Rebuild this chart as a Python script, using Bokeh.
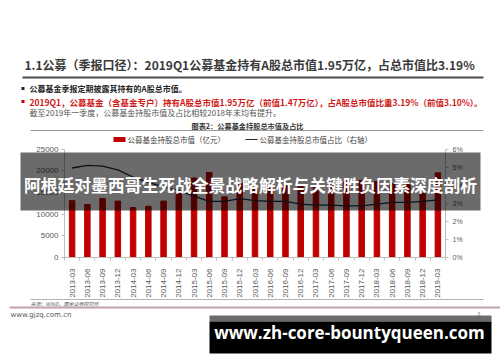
from math import pi
from bokeh.plotting import figure
from bokeh.models import (FactorRange, Range1d, LinearAxis, FixedTicker,
                          PrintfTickFormatter, Label, BoxAnnotation)
from bokeh.embed import file_html
from bokeh.resources import INLINE

# ---------------- data ----------------
categories = ["2013-03", "2013-06", "2013-09", "2013-12", "2014-03", "2014-06",
              "2014-09", "2014-12", "2015-03", "2015-06", "2015-09", "2015-12",
              "2016-03", "2016-06", "2016-09", "2016-12", "2017-03", "2017-06",
              "2017-09", "2017-12", "2018-03", "2018-06", "2018-09", "2018-12",
              "2019-03"]
holdings = [13100, 12200, 13600, 13000, 11500, 11800, 13000, 15000, 18300, 19600,
            14000, 17200, 15800, 16000, 16500, 16300, 16600, 17000, 17600, 17800,
            17500, 17000, 16800, 14700, 19500]
ratio_pct = [4.95, 5.10, 5.05, 4.85, 4.45, 4.15, 3.90, 3.70, 3.40, 3.10,
             3.10, 3.25, 3.15, 3.10, 3.10, 2.95, 2.90, 2.90, 2.85, 2.85,
             2.95, 3.05, 3.05, 3.10, 3.19]
left_ticks = [0, 5000, 10000, 15000, 20000, 25000]
right_ticks = [0, 1, 2, 3, 4, 5, 6]

title_text = "1.1公募（季报口径）：2019Q1公募基金持有A股总市值1.95万亿，占总市值比3.19%"
bullet1 = "公募基金季报定期披露其持有的A股总市值。"
bullet2 = "2019Q1，公募基金（含基金专户）持有A股总市值1.95万亿（前值1.47万亿），占A股总市值比重3.19%（前值3.10%）。"
bullet3 = "截至2019年一季度，公募基金持股市值及占比相较2018年末均有提升。"
chart_title = "图表2：公募基金持股总市值及占比"
legend_bar = "公募基金持股总市值（亿元）"
legend_line = "公募基金持股总市值占比（右轴）"
banner_text = "阿根廷对墨西哥生死战全景战略解析与关键胜负因素深度剖析"
source_text = "来源：WIND，国金证券研究所"
site_text = "www.gjzq.com.cn"
footer_banner = "www.zh-core-bountyqueen.com"

CJK = "Noto Sans CJK SC"
NUM = "Liberation Sans"

# ---------------- layout constants (page pixels) ----------------
W, H = 500, 362
FRAME_L = 9
CH_L, CH_R = 64, 445        # chart plotting area, left/right
CH_T, CH_B = 148.5, 257     # chart plotting area, top/bottom
LEFT_MAX = left_ticks[-1]
RIGHT_MAX = right_ticks[-1]

n = len(categories)
px_per_cat = (CH_R - CH_L) / n
pad = (CH_L - FRAME_L) / px_per_cat
px_per_val = (CH_B - CH_T) / LEFT_MAX
px_per_pct = (CH_B - CH_T) / RIGHT_MAX

x_range = FactorRange(factors=categories, range_padding=pad,
                      range_padding_units="absolute")
y_range = Range1d(-(H - CH_B) / px_per_val, CH_B / px_per_val)

p = figure(width=W, height=H, x_range=x_range, y_range=y_range,
           toolbar_location=None, output_backend="svg",
           min_border_left=FRAME_L, min_border_right=0,
           min_border_top=0, min_border_bottom=0)
p.background_fill_color = "white"
p.border_fill_color = "white"
p.outline_line_color = None
p.xgrid.visible = False
p.ygrid.visible = False
p.extra_y_ranges = {"pct": Range1d(-(H - CH_B) / px_per_pct, CH_B / px_per_pct)}

p.vbar(x=categories, top=holdings, width=0.36, color="#c00000")
p.line(x=categories, y=ratio_pct, y_range_name="pct", color="#1f2a3c", line_width=1.3)

# left axis (drawn at the left edge of the first category)
ya = p.yaxis[0]
ya.fixed_location = 0
ya.bounds = (0, LEFT_MAX)
ya.ticker = FixedTicker(ticks=left_ticks)
ya.axis_line_color = "#bfbfbf"
ya.major_tick_line_color = "#bfbfbf"
ya.major_tick_out = 3
ya.major_tick_in = 0
ya.minor_tick_line_color = None
ya.major_label_text_font = NUM
ya.major_label_text_font_size = "8px"
ya.major_label_text_color = "#595959"
ya.major_label_standoff = 3

# right axis
ra = LinearAxis(y_range_name="pct", ticker=FixedTicker(ticks=right_ticks),
                formatter=PrintfTickFormatter(format="%d%%"),
                fixed_location=n, bounds=(0, RIGHT_MAX))
ra.axis_line_color = "#bfbfbf"
ra.major_tick_line_color = "#bfbfbf"
ra.major_tick_out = 3
ra.major_tick_in = 0
ra.minor_tick_line_color = None
ra.major_label_text_font = NUM
ra.major_label_text_font_size = "7px"
ra.major_label_text_color = "#595959"
ra.major_label_standoff = 4
p.add_layout(ra, "right")

# bottom axis: category labels
xa = p.xaxis[0]
xa.fixed_location = 0
xa.bounds = (0, n)
xa.axis_line_color = "#bfbfbf"
xa.major_tick_line_color = None
xa.major_label_orientation = pi / 2
xa.major_label_text_font = NUM
xa.major_label_text_font_size = "8px"
xa.major_label_text_color = "#595959"
xa.major_label_standoff = 5

# bottom axis: tick marks on the category boundaries
xb = LinearAxis(ticker=FixedTicker(ticks=list(range(n + 1))), fixed_location=0,
                bounds=(0, n))
xb.axis_line_color = None
xb.major_tick_line_color = "#bfbfbf"
xb.major_tick_out = 3
xb.major_tick_in = 0
xb.minor_tick_line_color = None
xb.major_label_text_font_size = "0px"
xb.major_label_text_alpha = 0
p.add_layout(xb, "below")


# ---------- helpers: page coords -> frame-relative screen coords ----------
def sx(X):
    return X - FRAME_L


def sy(Y):
    return H - Y


def lab(X, Y, text, size, color, bold=False, align="left", font=CJK, italic=False):
    style = "bold" if bold else "normal"
    if italic:
        style = "italic"
    p.add_layout(Label(x=sx(X), y=sy(Y), x_units="screen", y_units="screen",
                       text=text, text_font=font, text_font_size=f"{size}px",
                       text_color=color, text_font_style=style,
                       text_align=align, text_baseline="middle"))


def box(X0, Y0, X1, Y1, color, alpha=1.0):
    p.add_layout(BoxAnnotation(left=sx(X0), right=sx(X1), top=sy(Y0), bottom=sy(Y1),
                               left_units="screen", right_units="screen",
                               top_units="screen", bottom_units="screen",
                               fill_color=color, fill_alpha=alpha, line_color=None))


# header
lab(24, 64, title_text, 12, "#3a3a3a", bold=True)
box(22, 76, 483, 78, "#4d4d4d")
box(21, 86.5, 24, 89.5, "#222222")
lab(29, 88, bullet1, 8, "#222222", bold=True)
box(21, 99.5, 24, 102.5, "#c00000")
lab(29, 101, bullet2, 8.5, "#d01818", bold=True)
lab(29, 112, bullet3, 8, "#555555")
lab(247, 125.5, chart_title, 7.2, "#333333", bold=True, align="center")
box(30, 129.6, 483, 130.4, "#9a9a9a")

# legend
box(113, 136.5, 125, 141.5, "#c00000")
lab(127, 139, legend_bar, 7.5, "#444444")
box(245, 138.4, 257, 139.6, "#1f2a3c")
lab(259, 139, legend_line, 7.5, "#444444")

# overlay banner over chart
box(20, 152, 480, 210, "#000000", 0.58)
lab(250, 184, banner_text, 16.8, "#ffffff", bold=True, align="center")

# footer
box(30, 298.5, 483, 299.3, "#9a9a9a")
lab(30, 303, source_text, 5, "#666666", italic=True)
box(0, 306, 500, 308, "#c3a2a8")
lab(10, 314, site_text, 7, "#555555", font="DejaVu Sans")
lab(477, 313, "8", 5, "#777777")

box(209, 315, 491, 321, "#6b6b6b")
box(209, 321, 491, 353, "#000000")
lab(349, 332, footer_banner, 17, "#ffffff", bold=True, align="center", font="Open Sans")

open("out.html", "w").write(file_html(p, INLINE))
